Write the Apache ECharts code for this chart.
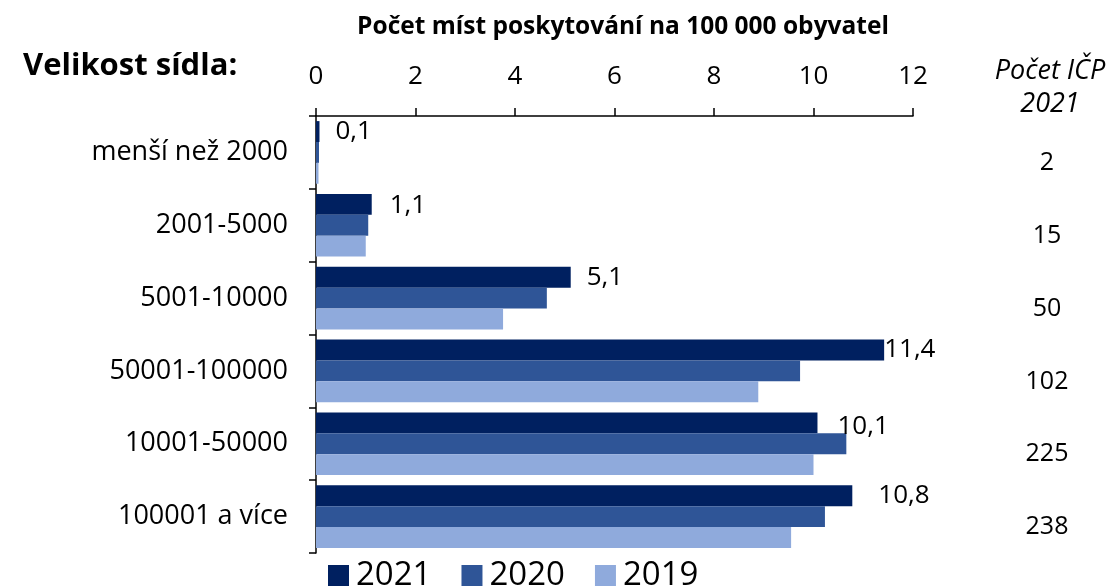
<!DOCTYPE html>
<html>
<head>
<meta charset="utf-8">
<script src="https://cdn.jsdelivr.net/npm/echarts@6/dist/echarts.min.js"></script>
<style>html,body{margin:0;padding:0;background:#fff}#c{width:1109px;height:587px}</style>
</head>
<body>
<div id="c"></div>
<script>
// ---- data ----
const categories = ['menší než 2000', '2001-5000', '5001-10000', '50001-100000', '10001-50000', '100001 a více'];
const seriesNames = ['2021', '2020', '2019'];
const values2021 = [0.07, 1.12, 5.12, 11.42, 10.08, 10.78];
const values2020 = [0.06, 1.05, 4.64, 9.73, 10.66, 10.23];
const values2019 = [0.05, 1.00, 3.76, 8.89, 10.00, 9.55];
const icpCounts = ['2', '15', '50', '102', '225', '238'];
const xTicks = [0, 2, 4, 6, 8, 10, 12];

// ---- styling ----
const FONT = 'Open Sans';
const colors = ['#002060', '#2F5597', '#8FAADC'];
const labelGap = [16, 18, 16, 0, 20, 26];
const labelDy = [0, 1, 0, 0, 4, 0];

const chart = echarts.init(document.getElementById('c'), null, {renderer: 'canvas'});

function fmt(v) { return v.toFixed(1).replace('.', ','); }

const d2021 = values2021.map((v, i) => ({
  value: v,
  label: {distance: labelGap[i], offset: [0, labelDy[i]]}
}));

const option = {
  animation: false,
  backgroundColor: '#fff',
  textStyle: {fontFamily: FONT},
  title: [
    {text: 'Počet míst poskytování na 100 000 obyvatel', left: 618, top: 10, textAlign: 'center',
     textStyle: {fontFamily: FONT, fontSize: 24.5, fontWeight: 'bold', color: '#000'}},
    {text: 'Velikost sídla:', left: 18, top: 46,
     textStyle: {fontFamily: FONT, fontSize: 31, fontWeight: 'bold', color: '#000'}},
    {text: 'Počet IČP\n2021', left: 1045, top: 50, textAlign: 'center',
     textStyle: {fontFamily: FONT, fontSize: 27, fontStyle: 'italic', fontWeight: 'normal', color: '#000', lineHeight: 33}}
  ],
  legend: {
    data: seriesNames,
    left: 323, top: 554,
    itemWidth: 21, itemHeight: 21, itemGap: 30,
    icon: 'rect',
    textStyle: {fontFamily: FONT, fontSize: 33, color: '#000', padding: [0, 0, 0, 2]}
  },
  grid: {left: 316, right: 196, top: 116, bottom: 34, containLabel: false},
  xAxis: {
    type: 'value', position: 'top', min: 0, max: 12, interval: 2,
    axisLine: {show: true, lineStyle: {color: '#000', width: 1.5}},
    axisTick: {show: true, length: 8, lineStyle: {color: '#000', width: 1.5}},
    axisLabel: {fontFamily: FONT, fontSize: 26, color: '#000', margin: 26,
      formatter: v => xTicks.includes(v) ? String(v) : ''},
    splitLine: {show: false}
  },
  yAxis: [
    {
      type: 'category', data: categories, inverse: true,
      axisLine: {show: true, lineStyle: {color: '#000', width: 1.5}},
      axisTick: {show: true, length: 7, lineStyle: {color: '#000', width: 1.5}},
      axisLabel: {fontFamily: FONT, fontSize: 27, color: '#000', margin: 28}
    },
    {
      type: 'category', data: icpCounts, inverse: true, position: 'right',
      axisLine: {show: false}, axisTick: {show: false},
      axisLabel: {fontFamily: FONT, fontSize: 25, color: '#000', margin: 134, align: 'center',
        verticalAlign: 'top', lineHeight: 21}
    }
  ],
  series: [
    {name: seriesNames[0], type: 'bar', data: d2021, itemStyle: {color: colors[0]},
     barGap: '0%', barCategoryGap: '14%',
     label: {show: true, position: 'right', fontFamily: FONT, fontSize: 26, color: '#000',
       formatter: p => fmt(p.value)}},
    {name: seriesNames[1], type: 'bar', data: values2020, itemStyle: {color: colors[1]},
     barGap: '0%', barCategoryGap: '14%'},
    {name: seriesNames[2], type: 'bar', data: values2019, itemStyle: {color: colors[2]},
     barGap: '0%', barCategoryGap: '14%'}
  ]
};
chart.setOption(option);
</script>
</body>
</html>
